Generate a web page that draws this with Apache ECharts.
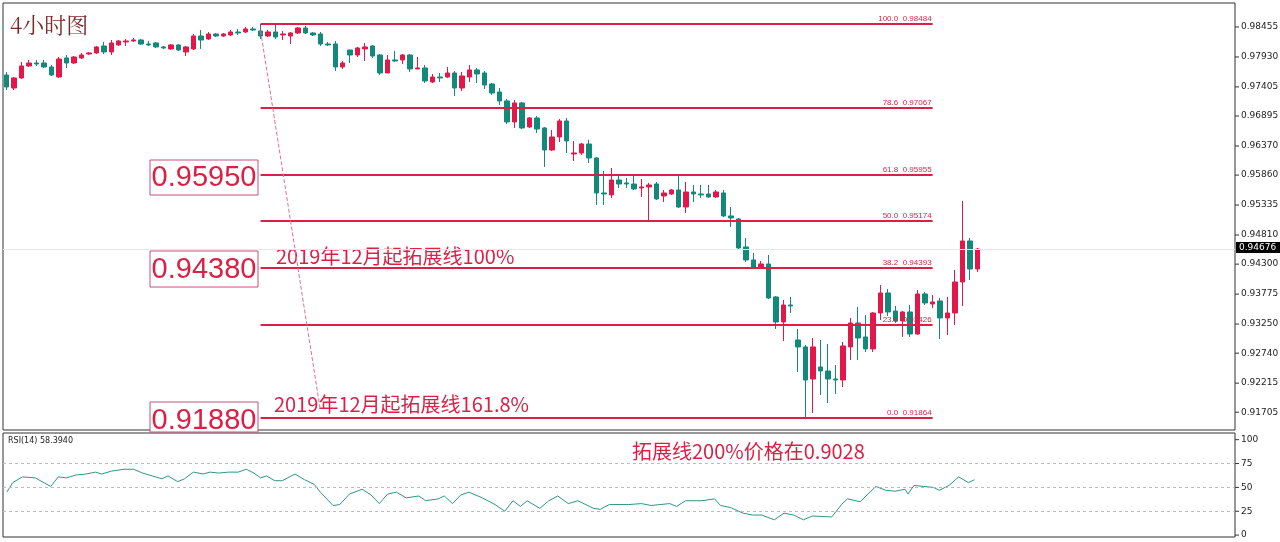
<!DOCTYPE html>
<html>
<head>
<meta charset="UTF-8">
<title>4小时图</title>
<script src="https://cdn.jsdelivr.net/npm/echarts@6/dist/echarts.min.js"></script>
<style>html,body{margin:0;padding:0;background:#fff}#main{width:1280px;height:542px}</style>
</head>
<body>
<div id="main"></div>
<script>
// candles: [open, close, low, high]
var candles = [
[.97614,.97404,.97351,.97667],[.97386,.97562,.97351,.97579],[.97562,.97772,.97544,.97842],[.97772,.97824,.97754,.97877],
[.97824,.97807,.97772,.97877],[.97824,.97754,.97737,.97877],[.97754,.97614,.97597,.97789],[.97579,.97894,.97562,.97929],
[.97912,.97824,.97737,.97964],[.97824,.97929,.97807,.97947],[.97912,.97964,.97894,.98000],[.97982,.98000,.97964,.98017],
[.98000,.98105,.97982,.98122],[.98122,.98017,.97982,.98192],[.98017,.98175,.97964,.98227],[.98140,.98210,.98122,.98227],
[.98192,.98210,.98122,.98245],[.98210,.98227,.98192,.98262],[.98227,.98157,.98140,.98245],[.98157,.98140,.98122,.98210],
[.98175,.98105,.98087,.98192],[.98105,.98087,.98070,.98122],[.98070,.98140,.98052,.98157],[.98140,.98052,.98035,.98157],
[.98017,.98105,.97947,.98122],[.98070,.98297,.98052,.98332],[.98297,.98227,.98070,.98402],[.98245,.98332,.98227,.98367],
[.98332,.98297,.98280,.98350],[.98297,.98332,.98280,.98350],[.98315,.98367,.98297,.98402],[.98367,.98350,.98315,.98420],
[.98367,.98420,.98350,.98455],[.98420,.98402,.98385,.98455],[.98385,.98297,.98245,.98508],[.98297,.98367,.98280,.98402],
[.98367,.98280,.98245,.98490],[.98315,.98332,.98227,.98385],[.98297,.98350,.98157,.98367],[.98350,.98437,.98332,.98455],
[.98437,.98350,.98332,.98472],[.98350,.98315,.98297,.98367],[.98332,.98157,.98122,.98367],[.98157,.98140,.98122,.98192],
[.98157,.97754,.97684,.98210],[.97754,.97824,.97719,.97859],[.98052,.97964,.97824,.98052],[.97964,.98087,.97929,.98105],
[.98070,.98105,.97859,.98175],[.98122,.97947,.97912,.98140],[.97964,.97649,.97614,.97982],[.97649,.97877,.97649,.97964],
[.97877,.97859,.97842,.98035],[.97877,.97964,.97807,.97982],[.97964,.97719,.97667,.97982],[.97719,.97737,.97719,.97929],
[.97737,.97509,.97474,.97789],[.97491,.97579,.97474,.97632],[.97579,.97562,.97491,.97649],[.97579,.97649,.97562,.97754],
[.97649,.97386,.97246,.97684],[.97386,.97597,.97334,.97667],[.97579,.97702,.97491,.97789],[.97702,.97632,.97474,.97737],
[.97649,.97439,.97369,.97684],[.97456,.97299,.97264,.97474],[.97316,.97159,.97089,.97386],[.97159,.96791,.96756,.97194],
[.96791,.97124,.96686,.97176],[.97124,.96686,.96668,.97141],[.96703,.96861,.96686,.96878],[.96861,.96668,.96598,.96896],
[.96686,.96300,.96002,.96703],[.96300,.96528,.96283,.96652],[.96528,.96808,.96440,.96843],[.96808,.96458,.96248,.96861],
[.96230,.96248,.96107,.96458],[.96248,.96405,.96212,.96423],[.96405,.96160,.96072,.96478],[.96160,.95547,.95336,.96178],
[.95547,.95529,.95336,.95932],[.95512,.95774,.95459,.95985],[.95774,.95704,.95634,.95845],[.95722,.95704,.95634,.95809],
[.95704,.95617,.95599,.95845],[.95634,.95652,.95477,.95792],[.95652,.95687,.95039,.95722],[.95704,.95442,.95424,.95739],
[.95494,.95547,.95389,.95599],[.95529,.95599,.95512,.95617],[.95599,.95301,.95284,.95862],[.95301,.95564,.95196,.95739],
[.95564,.95529,.95389,.95687],[.95529,.95512,.95459,.95687],[.95529,.95477,.95459,.95687],[.95477,.95564,.95459,.95599],
[.95547,.95144,.95126,.95599],[.95144,.95109,.94951,.95301],[.95091,.94583,.94548,.95109],[.94601,.94373,.94338,.94758],
[.94373,.94250,.94233,.94496],[.94233,.94303,.94215,.94355],[.94303,.93707,.93690,.94461],[.93725,.93287,.93164,.93742],
[.93287,.93584,.92954,.93672],[.93584,.93567,.93444,.93725],[.92971,.92849,.92411,.93164],[.92849,.92270,.91605,.92884],
[.92287,.92849,.91692,.93006],[.92498,.92428,.92008,.92971],[.92428,.92287,.91867,.92901],[.92287,.92270,.92025,.92533],
[.92270,.92866,.92147,.92936],[.92849,.93269,.92621,.93357],[.93269,.93006,.92621,.93550],[.93024,.92814,.92761,.93408],
[.92814,.93444,.92761,.93462],[.93444,.93795,.93322,.93935],[.93795,.93462,.93392,.93865],[.93479,.93305,.93269,.93567],
[.93305,.93462,.93024,.93479],[.93462,.93076,.93024,.93584],[.93076,.93777,.93059,.93847],[.93777,.93620,.93584,.93812],
[.93602,.93637,.93532,.93760],[.93655,.93357,.92989,.93707],[.93357,.93444,.93059,.93725],[.93444,.93987,.93234,.94198],
[.93987,.94706,.93567,.95407],[.94706,.94215,.94022,.94758],[.94215,.94565,.94163,.94583]
];
var slotCount = 165;
var priceTicks = [0.98455,0.97930,0.97405,0.96895,0.96370,0.95860,0.95335,0.94810,0.94300,0.93775,0.93250,0.92740,0.92215,0.91705];
var rsiTicks = [100,75,50,25,0];
var fibNames = ['100.0  0.98484','78.6  0.97067','61.8  0.95955','50.0  0.95174','38.2  0.94393','23.6  0.93426','0.0  0.91864'];
var fibLevels = [0.98508,0.97036,0.95862,0.95055,0.94233,0.93234,0.91605];
var fibStart = 34, fibEnd = 124;
var lastPrice = '0.94676';
var rsiX = [0,0.8,2.1,3.8,5.9,6.9,8,9.3,10.6,11.9,12.7,14,15.7,17,18.2,19.5,20.8,21.6,22.9,23.8,25,26.3,27.2,28.4,29.7,31,32.1,33.1,34,34.8,35.9,36.9,38.6,39.9,41.2,42,43.7,44.6,45.9,47.6,48.8,49.9,51,52.2,53.5,55.2,56.1,57.8,58.6,59.7,60.8,61.9,63.7,65.4,66.7,67.8,68.8,69.7,71.4,72.6,73.8,75.2,76.5,78.6,79.5,80.7,83.3,85,86.3,87.5,88.8,89.7,90.9,93.1,94.8,95.6,96.9,98.6,99.9,101.1,102.8,104.1,105.4,106.7,107.9,110.5,111.8,112.6,114.3,116.4,117.7,119,120.3,120.7,121.5,122.8,124.1,124.9,126.2,127.5,128.8,129.6];
var rsiY = [45,55,61,60,51,61,60,63,64,66,64,67,69,69,65,62,59,62,56,59,66,64,66,65,66,66,69,65,60,62,57,57,64,58,53,45,31,32,43,48,42,33,43,45,39,41,36,38,41,33,42,45,39,32,25,36,30,36,28,36,41,33,36,28,27,32,32,33,31,32,33,30,36,36,38,31,29,23,21,21,16,23,21,16,20,19,32,38,35,51,47,46,48,43,52,51,50,47,52,61,55,58];

var RED = '#e3184a', TEAL = '#12897b', FIB = '#dc1f45';
var cats = [];
for (var i = 0; i < slotCount; i++) cats.push(i);

var fibLines = fibLevels.map(function (v, k) {
    return [{coord: [fibStart, v], name: fibNames[k]}, {coord: [fibEnd, v]}];
});

function axisLabels(ticks, fmt) {
    return function (params, api) {
        var cs = params.coordSys;
        var p = api.coord([0, api.value(0)]);
        var x = cs.x + cs.width;
        return {type: 'group', children: [
            {type: 'line', shape: {x1: x, y1: p[1], x2: x + 4, y2: p[1]}, style: {stroke: '#333', lineWidth: 1}},
            {type: 'text', x: x + 6, y: p[1], style: {text: fmt(api.value(0)), fill: '#222', font: '9px "DejaVu Sans"', verticalAlign: 'middle'}}
        ]};
    };
}

var chart = echarts.init(document.getElementById('main'));
chart.setOption({
    animation: false,
    grid: [
        {left: 3, right: 45, top: 3, height: 427, show: true, borderColor: '#333', borderWidth: 1},
        {left: 3, right: 45, top: 433, bottom: 5, show: true, borderColor: '#333', borderWidth: 1}
    ],
    xAxis: [
        {type: 'category', data: cats, gridIndex: 0, axisLine: {show: false}, axisTick: {show: false}, axisLabel: {show: false}},
        {type: 'value', gridIndex: 1, min: -0.5, max: slotCount - 0.5, axisLine: {show: false}, axisTick: {show: false}, axisLabel: {show: false}, splitLine: {show: false}}
    ],
    yAxis: [
        {type: 'value', gridIndex: 0, min: 0.91394, max: 0.98875, axisLine: {show: false}, axisTick: {show: false}, axisLabel: {show: false}, splitLine: {show: false}},
        {type: 'value', gridIndex: 1, min: -2, max: 107, axisLine: {show: false}, axisTick: {show: false}, axisLabel: {show: false}, splitLine: {show: false}}
    ],
    series: [
        {
            type: 'candlestick', xAxisIndex: 0, yAxisIndex: 0, data: candles,
            barWidth: 5,
            itemStyle: {color: RED, color0: TEAL, borderColor: RED, borderColor0: TEAL, borderWidth: 1},
            markLine: {
                silent: true, symbol: 'none',
                data: fibLines.concat([
                    [{coord: [34, 0.98385], lineStyle: {color: '#e07090', type: 'dashed', width: 1}, label: {show: false}}, {coord: [42, 0.91745]}],
                    [{yAxis: candles[candles.length - 1][1], x: 3, lineStyle: {color: '#e6e6e6', type: 'solid', width: 1}, label: {show: false}}, {yAxis: candles[candles.length - 1][1], x: 1235}]
                ]),
                lineStyle: {color: FIB, width: 2, type: 'solid'},
                label: {show: true, position: 'insideEndTop', formatter: '{b}', color: FIB, fontSize: 8, distance: 1}
            }
        },
        {
            type: 'custom', xAxisIndex: 0, yAxisIndex: 0, clip: false, silent: true,
            data: priceTicks.map(function (v) { return [v]; }),
            encode: {y: 0},
            renderItem: axisLabels(priceTicks, function (v) { return v.toFixed(5); })
        },
        {
            type: 'custom', xAxisIndex: 1, yAxisIndex: 1, clip: false, silent: true,
            data: rsiTicks.map(function (v) { return [v]; }),
            encode: {y: 0},
            renderItem: axisLabels(rsiTicks, function (v) { return String(v); })
        },
        {
            type: 'line', xAxisIndex: 1, yAxisIndex: 1, symbol: 'none',
            data: rsiX.map(function (x, k) { return [x, rsiY[k]]; }),
            lineStyle: {color: '#2e9585', width: 1},
            markLine: {
                silent: true, symbol: 'none', label: {show: false},
                lineStyle: {color: '#bbb', type: [3, 3], width: 1},
                data: [{yAxis: 75}, {yAxis: 50}, {yAxis: 25}]
            }
        }
    ],
    graphic: [
        {type: 'text', left: 10, top: 14, style: {text: '4小时图', font: '22px "Noto Serif CJK SC", "Noto Sans CJK SC", serif', fill: '#7a2a2a'}},
        {type: 'rect', shape: {x: 150, y: 160, width: 108, height: 35}, style: {fill: '#fff', stroke: '#c4527a', lineWidth: 1}},
        {type: 'text', x: 204, y: 178, style: {text: '0.95950', font: '29px "Liberation Sans"', fill: FIB, align: 'center', verticalAlign: 'middle'}},
        {type: 'rect', shape: {x: 150, y: 251, width: 108, height: 36}, style: {fill: '#fff', stroke: '#c4527a', lineWidth: 1}},
        {type: 'text', x: 204, y: 270, style: {text: '0.94380', font: '29px "Liberation Sans"', fill: FIB, align: 'center', verticalAlign: 'middle'}},
        {type: 'rect', shape: {x: 150, y: 402, width: 108, height: 30}, style: {fill: '#fff', stroke: '#c4527a', lineWidth: 1}},
        {type: 'text', x: 204, y: 421, style: {text: '0.91880', font: '29px "Liberation Sans"', fill: FIB, align: 'center', verticalAlign: 'middle'}},
        {type: 'text', x: 276, y: 246, style: {text: '2019年12月起拓展线100%', font: '20px "Noto Sans CJK SC"', fill: FIB}},
        {type: 'text', x: 274, y: 394, style: {text: '2019年12月起拓展线161.8%', font: '20px "Noto Sans CJK SC"', fill: FIB}},
        {type: 'rect', shape: {x: 1236, y: 242, width: 44, height: 11}, style: {fill: '#000'}},
        {type: 'text', x: 1239, y: 248, style: {text: lastPrice, font: '9px "DejaVu Sans"', fill: '#fff', verticalAlign: 'middle'}},
        {type: 'text', x: 8, y: 437, style: {text: 'RSI(14) 58.3940', font: '8px "DejaVu Sans"', fill: '#222'}},
        {type: 'text', x: 632, y: 441, style: {text: '拓展线200%价格在0.9028', font: '20px "Noto Sans CJK SC"', fill: FIB}}
    ]
});
</script>
</body>
</html>
